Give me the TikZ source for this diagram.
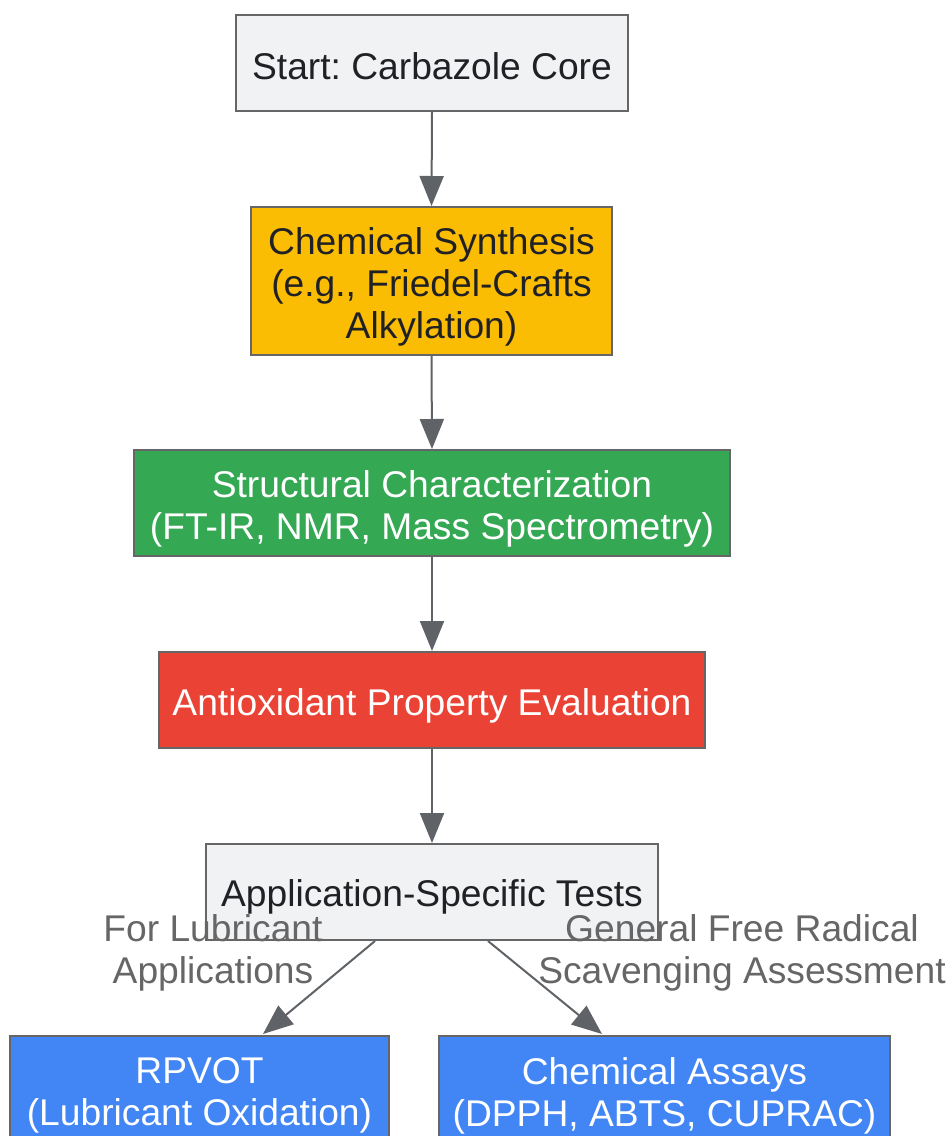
\documentclass[tikz,border=0pt]{standalone}
\usepackage{fontspec}
\setmainfont{Liberation Sans}
\frenchspacing
\usetikzlibrary{arrows.meta,calc}
\definecolor{boxline}{HTML}{666666}
\definecolor{arrowc}{HTML}{5F6368}
\definecolor{lightbox}{HTML}{F1F2F4}
\definecolor{yellowbox}{HTML}{FBBC04}
\definecolor{greenbox}{HTML}{34A853}
\definecolor{redbox}{HTML}{EA4335}
\definecolor{bluebox}{HTML}{4285F4}
\definecolor{darktext}{HTML}{202124}
\definecolor{labeltext}{HTML}{666666}
\tikzset{
  box/.style={draw=boxline, line width=2pt, rectangle, inner sep=0pt},
  txt/.style={align=center, inner sep=0pt, font=\fontsize{37.2}{42}\selectfont},
  flow/.style={draw=arrowc, line width=2pt, -{Triangle[length=30pt,width=24pt]}},
  elabel/.style={align=center, text=labeltext, font=\fontsize{37.2}{42}\selectfont, inner sep=0pt}
}
\begin{document}
\begin{tikzpicture}[x=1pt,y=-1pt]
\useasboundingbox (0,0) rectangle (949,1136);
\node[box, fill=lightbox, minimum width=392pt, minimum height=96pt] (start) at (432,63) {};
\node[box, fill=yellowbox, minimum width=361pt, minimum height=148pt] (synth) at (431.5,281) {};
\node[box, fill=greenbox, minimum width=596pt, minimum height=106pt] (struct) at (432,503) {};
\node[box, fill=redbox, minimum width=546pt, minimum height=96pt] (antiox) at (432,700) {};
\node[box, fill=lightbox, minimum width=452pt, minimum height=96pt] (app) at (432,892) {};
\node[box, fill=bluebox, minimum width=379pt, minimum height=106pt] (rpvot) at (199.5,1089) {};
\node[box, fill=bluebox, minimum width=451pt, minimum height=106pt] (assay) at (664.5,1089) {};

\node[txt, text=darktext] (starttxt) at ($(start)+(0,3.5)$) {Start: Carbazole Core};
\node[txt, text=darktext] (synthtxt) at ($(synth)+(0,5.5)$) {Chemical Synthesis\\(e.g., Friedel-Crafts\\Alkylation)};
\node[txt, text=white] (structtxt) at ($(struct)+(0,5.5)$) {Structural Characterization\\(FT-IR, NMR, Mass Spectrometry)};
\node[txt, text=white] (antioxtxt) at ($(antiox)+(0,6)$) {Antioxidant Property Evaluation};
\node[txt, text=darktext] (apptxt) at ($(app)+(0,5)$) {Application-Specific Tests};
\node[txt, text=white] (rpvottxt) at ($(rpvot)+(0,6.5)$) {RPVOT\\(Lubricant Oxidation)};
\node[txt, text=white] (assaytxt) at ($(assay)+(0,6.5)$) {Chemical Assays\\(DPPH, ABTS, CUPRAC)};

\draw[flow] (start.south) -- (synth.north);
\draw[flow] (synth.south) -- (struct.north);
\draw[flow] (struct.south) -- (antiox.north);
\draw[flow] (antiox.south) -- (app.north);

\coordinate (l1) at ($(app.south)+(-57,0)$);
\coordinate (l2) at ($(rpvot.north)+(63.5,-1)$);
\coordinate (r1) at ($(app.south)+(56,0)$);
\coordinate (r2) at ($(assay.north)+(-62.5,-1)$);
\draw[flow] (l1) -- (l2);
\draw[flow] (r1) -- (r2);

\node[elabel] (lab1) at (213,953) {For Lubricant\\Applications};
\node[elabel] (lab2) at (742,953) {General Free Radical\\Scavenging Assessment};
\end{tikzpicture}
\end{document}
